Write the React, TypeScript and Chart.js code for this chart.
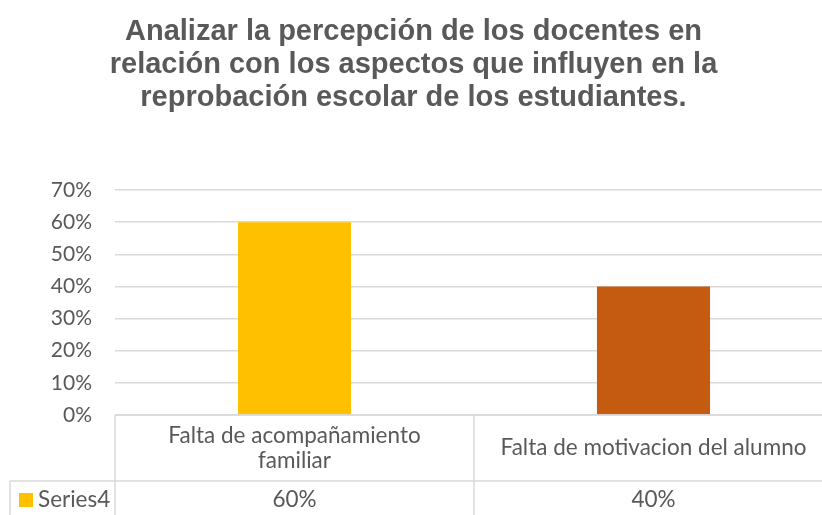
import React, { useEffect, useRef } from "react";
import { Chart, registerables } from "chart.js";

Chart.register(...registerables);

const titleLines = [
  "Analizar la percepción de los docentes en",
  "relación con los aspectos que influyen en la",
  "reprobación escolar de los estudiantes.",
];
const categories = [["Falta de acompañamiento", "familiar"], ["Falta de motivacion del alumno"]];
const seriesName = "Series4";
const seriesValues = [0.6, 0.4];
const barColors = ["#FFC000", "#C55A11"];
const yMin = 0;
const yMax = 0.7;
const yStep = 0.1;

const GRID = "#d9d9d9";
const TEXT = "#595959";
const TABLE_FONT = "Lato";
const TABLE_SIZE = 22.5;
const TICK_SIZE = 21;

const fmtPct = (v: number) => Math.round(v * 100) + "%";

const tablePlugin = {
  id: "dataTable",
  afterDraw(chart: any) {
    const { ctx, chartArea } = chart;
    const xs = chart.scales.x;
    const n = categories.length;
    const cell = xs.getPixelForValue(1) - xs.getPixelForValue(0);
    const left = chartArea.left;
    const right = left + cell * n;
    const top = chartArea.bottom;
    const split = top + 66;
    const bottom = chart.height + 2;
    const legendLeft = 10;

    ctx.save();
    ctx.strokeStyle = GRID;
    ctx.lineWidth = 1.5;
    ctx.beginPath();
    ctx.moveTo(left, top);
    ctx.lineTo(right, top);
    ctx.moveTo(legendLeft, split);
    ctx.lineTo(right, split);
    ctx.moveTo(legendLeft, split);
    ctx.lineTo(legendLeft, bottom);
    for (let i = 0; i <= n; i++) {
      const xx = left + i * cell;
      ctx.moveTo(xx, top);
      ctx.lineTo(xx, bottom);
    }
    ctx.stroke();

    ctx.fillStyle = TEXT;
    ctx.font = `${TABLE_SIZE}px ${TABLE_FONT}`;
    ctx.textAlign = "center";
    ctx.textBaseline = "middle";
    const lh = 25;
    categories.forEach((lines, i) => {
      const cx = xs.getPixelForValue(i);
      const cy = (top + split) / 2;
      const start = cy - ((lines.length - 1) * lh) / 2;
      lines.forEach((t, j) => ctx.fillText(t, cx, start + j * lh));
    });
    const rowY = split + 19;
    seriesValues.forEach((v, i) => {
      ctx.fillText(fmtPct(v), xs.getPixelForValue(i), rowY);
    });

    ctx.fillStyle = barColors[0];
    ctx.fillRect(19, rowY - 7, 14, 14);
    ctx.fillStyle = TEXT;
    ctx.textAlign = "left";
    ctx.fillText(seriesName, 38, rowY);
    ctx.restore();
  },
};

export default function App() {
  const ref = useRef<HTMLCanvasElement>(null);
  useEffect(() => {
    let chart: Chart | null = null;
    let cancelled = false;
    const make = () => {
      if (cancelled || !ref.current) return;
      chart = new Chart(ref.current, {
        type: "bar",
        data: {
          labels: categories,
          datasets: [
            {
              label: seriesName,
              data: seriesValues,
              backgroundColor: barColors,
              borderWidth: 0,
              categoryPercentage: 1,
              barPercentage: 0.315,
            },
          ],
        },
        options: {
          responsive: false,
          animation: false,
          devicePixelRatio: 1,
          layout: { padding: { top: 0, left: -6, right: 0, bottom: 100 } },
          plugins: {
            legend: { display: false },
            tooltip: { enabled: false },
            title: {
              display: true,
              text: titleLines,
              color: TEXT,
              font: { family: "Liberation Sans", size: 29, weight: "bold", lineHeight: 33 / 29 },
              padding: { top: 15, bottom: 76 },
            },
          },
          scales: {
            x: { display: false, offset: true },
            y: {
              min: yMin,
              max: yMax,
              ticks: {
                stepSize: yStep,
                callback: (v: any) => fmtPct(Number(v)),
                color: TEXT,
                font: { family: TABLE_FONT, size: TICK_SIZE },
                padding: 23,
              },
              grid: { color: GRID, lineWidth: 1.5, drawTicks: false },
              border: { display: false },
              afterFit: (s: any) => {
                s.width = 121;
              },
            },
          },
        },
        plugins: [tablePlugin],
      });
    };
    const fonts = (document as any).fonts;
    if (fonts && fonts.load) {
      Promise.all([
        fonts.load(`${TABLE_SIZE}px ${TABLE_FONT}`),
        fonts.load(`bold 29px "Liberation Sans"`),
      ]).then(make, make);
    } else make();
    return () => {
      cancelled = true;
      if (chart) chart.destroy();
    };
  }, []);
  return (
    <div
      style={{
        position: "fixed",
        left: 0,
        top: 0,
        width: 822,
        height: 515,
        overflow: "hidden",
        background: "#fff",
      }}
    >
      <canvas ref={ref} width={833} height={515} style={{ display: "block" }} />
    </div>
  );
}
